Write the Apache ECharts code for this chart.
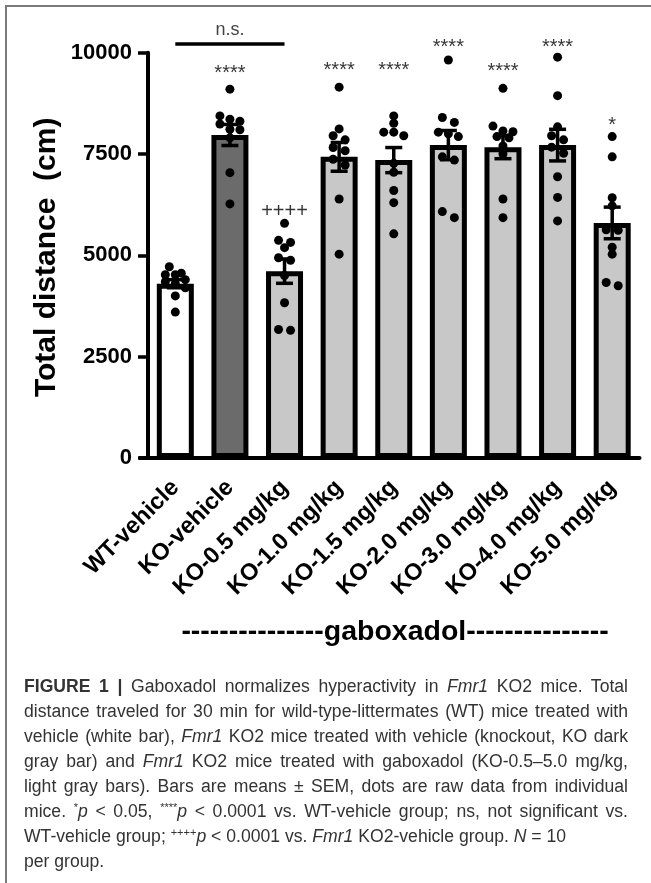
<!DOCTYPE html>
<html>
<head>
<meta charset="utf-8">
<script src="https://cdn.jsdelivr.net/npm/echarts@6/dist/echarts.min.js"></script>
<style>
  html, body { margin: 0; padding: 0; background: #fff; }
  #wrap { position: relative; width: 651px; height: 883px; overflow: hidden; }
  #chart { position: absolute; left: 0; top: 0; width: 651px; height: 883px; }
  #frame { position: absolute; left: 5px; top: 5px; width: 646px; height: 878px;
           border-top: 2px solid #7a7a7a; border-left: 2px solid #7a7a7a; box-sizing: border-box; }
  #caption { position: absolute; left: 24px; top: 674px; width: 604px;
             font-family: "Liberation Sans", Arial, sans-serif; font-size: 17.6px; color: #333; }
  #caption div { height: 25px; line-height: 25px; white-space: nowrap;
                 text-align: justify; text-align-last: justify; }
  #caption div.last { text-align-last: left; }
  #caption sup { font-size: 11px; line-height: 0; vertical-align: 6px; }
</style>
</head>
<body>
<div id="wrap">
  <div id="frame"></div>
  <div id="chart"></div>
  <div id="caption">
    <div><b>FIGURE 1</b> <b>|</b> Gaboxadol normalizes hyperactivity in <i>Fmr1</i> KO2 mice. Total</div>
    <div>distance traveled for 30 min for wild-type-littermates (WT) mice treated with</div>
    <div>vehicle (white bar), <i>Fmr1</i> KO2 mice treated with vehicle (knockout, KO dark</div>
    <div>gray bar) and <i>Fmr1</i> KO2 mice treated with gaboxadol (KO-0.5–5.0 mg/kg,</div>
    <div>light gray bars). Bars are means ± SEM, dots are raw data from individual</div>
    <div>mice. <sup>*</sup><i>p</i> &lt; 0.05, <sup>****</sup><i>p</i> &lt; 0.0001 vs. WT-vehicle group; ns, not significant vs.</div>
    <div class="last">WT-vehicle group; <sup>++++</sup><i>p</i> &lt; 0.0001 vs. <i>Fmr1</i> KO2-vehicle group. <i>N</i> = 10</div>
    <div class="last">per group.</div>
  </div>
</div>
<script>
// ---------------- data ----------------
const categories = ['WT-vehicle', 'KO-vehicle', 'KO-0.5 mg/kg', 'KO-1.0 mg/kg', 'KO-1.5 mg/kg',
                    'KO-2.0 mg/kg', 'KO-3.0 mg/kg', 'KO-4.0 mg/kg', 'KO-5.0 mg/kg'];
const means = [4300, 7970, 4610, 7430, 7350, 7720, 7670, 7720, 5800];
const sems  = [100, 260, 300, 355, 310, 360, 285, 390, 390];

const wtVehicle = [4720, 4560, 4520, 4520, 4400, 4350, 4300, 4200, 4000, 3600];
const koVehicle = [9100, 8440, 8360, 8310, 8240, 8110, 8100, 7900, 7040, 6270];
const ko05 = [5790, 5370, 5320, 5190, 4940, 4880, 4500, 3830, 3170, 3150];
const ko10 = [9150, 8120, 7950, 7850, 7660, 7580, 7370, 7230, 6390, 5030];
const ko15 = [8440, 8260, 8040, 8040, 7950, 7270, 7050, 6600, 6300, 5530];
const ko20 = [9820, 8400, 8280, 8040, 8000, 7930, 7430, 7350, 6080, 5930];
const ko30 = [9120, 8190, 8070, 8050, 7930, 7900, 7700, 7500, 6390, 5930];
const ko40 = [9890, 8940, 8170, 7950, 7850, 7670, 7520, 6940, 6430, 5850];
const ko50 = [7930, 7430, 6420, 6220, 5630, 5620, 5200, 5030, 4330, 4250];
const rawGroups = [wtVehicle, koVehicle, ko05, ko10, ko15, ko20, ko30, ko40, ko50];

const sigLabels = ['', '****', '++++', '****', '****', '****', '****', '****', '*'];
const sigValues = [null, 9570, 6150, 9640, 9640, 10215, 9615, 10215, 8270];
const nsFrom = 0, nsTo = 2, nsValue = 10215, nsLabelValue = 10560;

const yTicks = [0, 2500, 5000, 7500, 10000];

// ---------------- styles ----------------
const FONT = '"Liberation Sans", Arial, sans-serif';
const barFills = ['#ffffff', '#6b6b6b', '#c8c8c8', '#c8c8c8', '#c8c8c8', '#c8c8c8', '#c8c8c8', '#c8c8c8', '#c8c8c8'];
const GRID = { left: 148, right: 11.5, top: 52.7, bottom: 425 };
const plotH = 883 - GRID.top - GRID.bottom;
const pxPerUnit = plotH / (yTicks[yTicks.length - 1] - yTicks[0]);
const DOT = 9;

// beeswarm-like horizontal spreading of dots (pixel offsets)
function swarm(values) {
  const sorted = values.slice().sort((a, b) => b - a);
  const rows = [];
  sorted.forEach(v => {
    const row = rows[rows.length - 1];
    if (row && Math.abs(row[0] - v) * pxPerUnit < DOT * 0.75) row.push(v);
    else rows.push([v]);
  });
  const out = [];
  rows.forEach(row => {
    const step = row.length > 2 ? DOT + 1 : DOT + 3;
    row.forEach((v, i) => out.push({ v: v, off: (i - (row.length - 1) / 2) * step }));
  });
  return out;
}

const dotData = [];
rawGroups.forEach((g, gi) => {
  swarm(g).forEach(d => dotData.push({ value: [gi, d.v], symbolOffset: [d.off, 0] }));
});

const barData = means.map((m, i) => ({ value: m, itemStyle: { color: barFills[i] } }));
const errData = means.map((m, i) => [i, m, sems[i]]);
const sigData = [];
sigLabels.forEach((s, i) => { if (s) sigData.push({ value: [i, sigValues[i]], name: s }); });

const chart = echarts.init(document.getElementById('chart'), null, { renderer: 'canvas' });
chart.setOption({
  animation: false,
  grid: GRID,
  xAxis: {
    type: 'category',
    data: categories,
    axisLine: { lineStyle: { color: '#000', width: 4 } },
    axisTick: { alignWithLabel: true, length: 7, lineStyle: { color: '#000', width: 3.5 } },
    axisLabel: { interval: 0, rotate: 45, margin: 26, color: '#000', fontSize: 23.5,
                 fontWeight: 'bold', fontFamily: FONT }
  },
  yAxis: {
    type: 'value', min: 0, max: 10000, interval: 2500,
    axisLine: { show: true, lineStyle: { color: '#000', width: 4 } },
    axisTick: { show: true, length: 10, lineStyle: { color: '#000', width: 3.5 } },
    splitLine: { show: false },
    axisLabel: { margin: 16, color: '#000', fontSize: 22, fontWeight: 'bold', fontFamily: FONT,
                 formatter: v => String(v) }
  },
  graphic: [
    { type: 'line', z: 1, shape: { x1: GRID.left - 9, y1: 883 - GRID.bottom, x2: GRID.left, y2: 883 - GRID.bottom },
      style: { stroke: '#000', lineWidth: 4 } },
    { type: 'text', x: 47, y: GRID.top + plotH / 2 + 2, rotation: Math.PI / 2,
      style: { text: 'Total distance  (cm)', fill: '#000', font: 'bold 30px ' + FONT,
               textAlign: 'center', textVerticalAlign: 'middle' } },
    { type: 'text', x: 395, y: 632,
      style: { text: '---------------gaboxadol---------------', fill: '#000', font: 'bold 28.5px ' + FONT,
               textAlign: 'center', textVerticalAlign: 'middle' } }
  ],
  series: [
    {
      type: 'bar', data: barData, barWidth: 37, z: 2,
      itemStyle: { borderColor: '#000', borderWidth: 5 }
    },
    {
      type: 'scatter', data: dotData, symbolSize: DOT, z: 3,
      itemStyle: { color: '#000', opacity: 1 }, clip: false
    },
    {
      type: 'custom', z: 4, data: errData, clip: false,
      renderItem: function (params, api) {
        const x = api.value(0), m = api.value(1), s = api.value(2);
        const top = api.coord([x, m + s]);
        const bot = api.coord([x, m - s]);
        const half = 8.5;
        const st = { stroke: '#000', lineWidth: 3.5 };
        return { type: 'group', children: [
          { type: 'line', shape: { x1: top[0], y1: top[1], x2: bot[0], y2: bot[1] }, style: st },
          { type: 'line', shape: { x1: top[0] - half, y1: top[1], x2: top[0] + half, y2: top[1] }, style: st },
          { type: 'line', shape: { x1: bot[0] - half, y1: bot[1], x2: bot[0] + half, y2: bot[1] }, style: st }
        ]};
      }
    },
    {
      type: 'scatter', data: sigData, symbolSize: 0, z: 5, clip: false, silent: true,
      label: { show: true, position: 'inside', formatter: p => p.name, color: '#000',
               fontFamily: FONT, fontSize: 20, offset: [0, 3] }
    },
    {
      type: 'line', data: [[nsFrom, nsValue], [nsTo, nsValue]], symbol: 'none', clip: false, z: 5,
      lineStyle: { color: '#000', width: 3.5 }
    },
    {
      type: 'scatter', data: [{ value: [(nsFrom + nsTo) / 2, nsLabelValue], name: 'n.s.' }], symbolSize: 0,
      clip: false, z: 5, silent: true,
      label: { show: true, position: 'inside', formatter: p => p.name, color: '#111',
               fontFamily: FONT, fontSize: 18 }
    }
  ]
});
</script>
</body>
</html>
